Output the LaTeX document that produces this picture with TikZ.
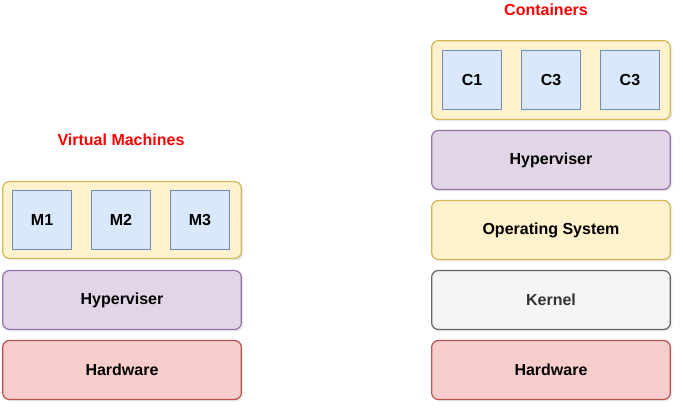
\documentclass[tikz,border=0pt]{standalone}
\usepackage{fontspec}
\setmainfont{Liberation Sans}
\usepackage{tikz}
\usetikzlibrary{positioning,shadows}
\definecolor{ylwfill}{HTML}{FFF2CC}
\definecolor{ylwline}{HTML}{D6B656}
\definecolor{bluefill}{HTML}{DAE8FC}
\definecolor{blueline}{HTML}{6C8EBF}
\definecolor{purpfill}{HTML}{E1D5E7}
\definecolor{purpline}{HTML}{9673A6}
\definecolor{redfill}{HTML}{F8CECC}
\definecolor{redline}{HTML}{B85450}
\definecolor{grayfill}{HTML}{F5F5F5}
\definecolor{grayline}{HTML}{666666}
\definecolor{graytext}{HTML}{333333}
\tikzstyle{layer}=[draw, rounded corners=5pt, line width=0.9pt, minimum width=179pt, minimum height=44.2pt, font=\fontsize{12}{14}\selectfont\bfseries, drop shadow={shadow xshift=1.5pt, shadow yshift=-1.5pt, opacity=0.15}]
\tikzstyle{hwbox}=[layer, fill=redfill, draw=redline]
\tikzstyle{hvbox}=[layer, fill=purpfill, draw=purpline]
\tikzstyle{osbox}=[layer, fill=ylwfill, draw=ylwline]
\tikzstyle{kbox}=[layer, fill=grayfill, draw=grayline, text=graytext]
\tikzstyle{guestbox}=[layer, fill=ylwfill, draw=ylwline, minimum height=57.6pt]
\tikzstyle{unitbox}=[draw=blueline, fill=bluefill, line width=0.9pt, minimum width=44.2pt, minimum height=44.2pt, font=\fontsize{12}{14}\selectfont\bfseries]
\tikzstyle{title}=[text=red, font=\fontsize{12}{14}\selectfont\bfseries]

\begin{document}
\begin{tikzpicture}[x=0.75pt, y=-0.75pt, node distance=7.4pt]
\useasboundingbox (0,0) rectangle (683,413);
% virtual machines
\node [hwbox] (vmhw) at (122,370) {Hardware};
\node [hvbox, above=of vmhw] (vmhv) {Hyperviser};
\node [guestbox, above=8.2pt of vmhv] (vms) {};
\node [unitbox] (m2) at (121,220) {M2};
\node [unitbox, left=14.1pt of m2] (m1) {M1};
\node [unitbox, right=14.1pt of m2] (m3) {M3};
\node [title] (vmtitle) at (121,140) {Virtual Machines};

% containers
\node [hwbox] (cthw) at (551,370) {Hardware};
\node [kbox, above=of cthw] (ctk) {Kernel};
\node [osbox, above=of ctk] (ctos) {Operating System};
\node [hvbox, above=of ctos] (cthv) {Hyperviser};
\node [guestbox, minimum height=59.1pt, above=of cthv] (cts) {};
\node [unitbox] (c2) at (cts) {C3};
\node [unitbox, left=14.1pt of c2] (c1) {C1};
\node [unitbox, right=14.1pt of c2] (c3) {C3};
\node [title] (cttitle) at (546,10) {Containers};
\end{tikzpicture}
\end{document}
